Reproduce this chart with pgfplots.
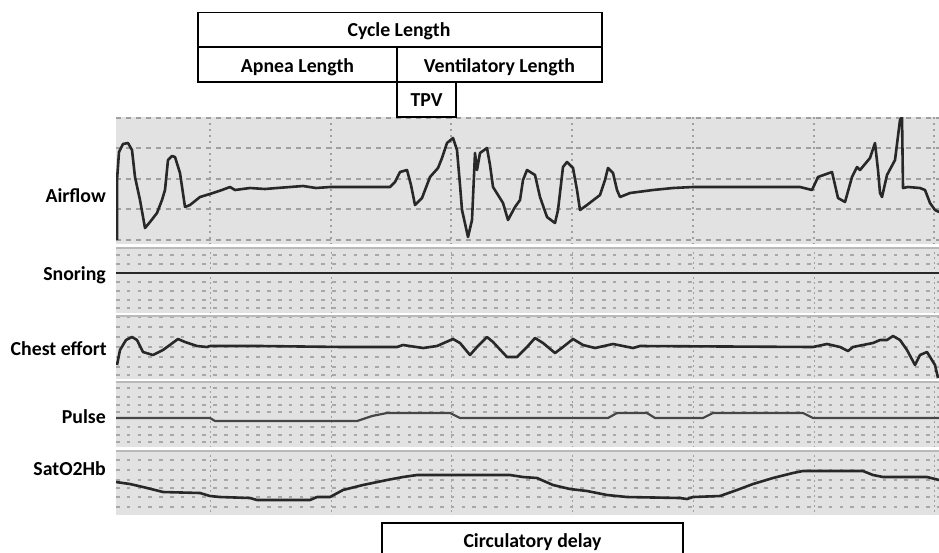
\documentclass[border=0pt]{standalone}
\usepackage{pgfplots}
\pgfplotsset{compat=1.18}
\usepackage{fontspec}
\setmainfont{Carlito}
\definecolor{panel}{RGB}{226,226,226}
\definecolor{gridc}{RGB}{160,160,160}
\definecolor{dashc}{RGB}{168,168,168}
\definecolor{trace}{RGB}{40,40,40}
\definecolor{pulsec}{RGB}{70,70,70}
\pgfplotsset{
  panel/.style={scale only axis, width=823pt, xmin=116, xmax=939, y dir=reverse,
    anchor=north west,
    axis background/.style={fill=panel}, axis line style={draw=none},
    tick style={draw=none}, xticklabels={}, yticklabels={},
    xtick={210,331,451,572,693,814,934}, grid=major,
    major grid style={dashc, line width=2.2pt, dash pattern=on 3.6pt off 7.2pt},
    major x grid style={gridc, line width=1pt, dash pattern=on 2pt off 3pt}},
  tr/.style={trace, line width=2.6pt, line join=round, no markers}
}
\begin{document}
\begin{tikzpicture}[x=1pt,y=-1pt]
\useasboundingbox (0,0) rectangle (939,552);
% Airflow
\begin{axis}[panel, at={(116pt,-117pt)}, height=127pt, ymin=117, ymax=244,
  ytick={118,148,179,209,240},
  major grid style={gridc, line width=1.2pt, dash pattern=on 5pt off 5pt},
  major x grid style={gridc, line width=1.2pt, dash pattern=on 2pt off 4pt}]
\addplot[tr] coordinates {(117,240)(117,180)(119,152)(123,144)(128,143)(132,150)(135,177)(140,200)(145,228)(150,222)(157,213)(162,200)(165,190)(168,160)(172,156)(175,157)(180,173)(185,207)(190,205)(200,197)(213,193)(222,190)(230,187)(235,190)(250,188)(265,189)(277,188)(290,187)(303,186)(316,188)(330,187)(345,187)(360,187)(375,187)(390,187)(395,182)(400,172)(407,170)(411,185)(415,205)(422,198)(430,177)(438,168)(442,158)(447,143)(453,138)(457,150)(460,185)(462,210)(468,237)(472,220)(475,153)(477,170)(480,153)(487,148)(490,165)(493,187)(503,203)(508,220)(515,207)(520,200)(523,180)(527,170)(535,175)(540,197)(547,217)(555,223)(558,210)(563,167)(567,162)(573,168)(577,190)(580,210)(587,205)(600,195)(605,180)(608,168)(613,173)(617,190)(620,197)(630,193)(653,190)(673,188)(693,187)(715,187)(737,187)(760,187)(787,187)(800,187)(812,190)(818,177)(832,172)(838,198)(845,202)(852,177)(857,167)(860,170)(870,158)(875,143)(878,170)(880,193)(882,197)(887,175)(895,160)(900,120)(902,117)(903,188)(908,187)(920,188)(925,190)(930,203)(935,210)(939,212)};
\end{axis}
% Snoring
\begin{axis}[panel, at={(116pt,-247pt)}, height=66pt, ymin=247, ymax=313,
  ytick={255,264,282,291,300,308}]
\addplot[tr, line width=2.4pt] coordinates {(116,273)(939,273)};
\end{axis}
% Chest effort
\begin{axis}[panel, at={(116pt,-315pt)}, height=64pt, ymin=315, ymax=379,
  ytick={317,327,337,347,357,367,375}]
\addplot[tr] coordinates {(117,365)(120,350)(126,340)(132,337)(137,340)(143,352)(153,355)(163,350)(178,339)(185,342)(197,346)(207,347)(210,346)(260,346)(343,347)(397,347)(403,345)(423,348)(437,346)(453,339)(460,343)(470,355)(477,347)(487,337)(493,342)(507,357)(517,357)(527,347)(535,338)(543,343)(555,353)(563,347)(573,339)(583,345)(595,348)(613,344)(633,348)(640,346)(813,347)(827,344)(840,347)(848,351)(853,347)(873,343)(880,340)(887,340)(893,336)(900,340)(907,350)(915,365)(920,355)(927,352)(935,365)(938,378)};
\end{axis}
% Pulse
\begin{axis}[panel, at={(116pt,-381pt)}, height=66pt, ymin=381, ymax=447,
  ytick={388,397,405,412,427,435,442}]
\addplot[pulsec, line width=2.2pt, line join=round, no markers] coordinates {(116,418)(210,418)(215,421)(357,421)(372,416)(387,413)(450,413)(460,418)(608,418)(617,413)(647,413)(655,418)(703,418)(713,413)(803,413)(813,418)(939,418)};
\end{axis}
% SatO2Hb
\begin{axis}[panel, at={(116pt,-450pt)}, height=65pt, ymin=450, ymax=515,
  ytick={460,470,480,488,497,507}]
\addplot[tr] coordinates {(116,482)(130,484)(143,487)(163,492)(200,493)(210,496)(220,497)(250,498)(257,500)(310,500)(317,497)(330,497)(343,490)(363,485)(387,480)(403,477)(417,475)(450,475)(510,475)(523,477)(537,478)(553,485)(570,489)(587,491)(607,495)(627,497)(680,498)(687,499)(693,497)(720,496)(737,490)(753,484)(773,478)(793,473)(803,471)(863,471)(873,475)(883,477)(927,477)(939,480)};
\end{axis}
% panel top edges
\foreach \yy in {248,316,382,451} {\draw[gray!55, line width=1.3pt] (116,\yy)--(939,\yy);}
% labels
\begin{scope}[every node/.style={font=\fontsize{19.8}{22}\selectfont\bfseries, inner sep=0pt}]
\node[anchor=base east] at (106,202) {Airflow};
\node[anchor=base east] at (106,280) {Snoring};
\node[anchor=base east] at (107,355) {Chest effort};
\node[anchor=base east] at (106,423) {Pulse};
\node[anchor=base east] at (106,475) {SatO2Hb};
\draw[line width=1.2pt] (198,12.7) rectangle (602,47);
\draw[line width=1.2pt] (198,47) rectangle (397,82);
\draw[line width=1.2pt] (397,47) rectangle (602,82);
\draw[line width=1.2pt] (397,82) rectangle (456,117);
\node[anchor=base] at (399,36.7) {Cycle Length};
\node[anchor=base] at (297.5,72.7) {Apnea Length};
\node[anchor=base] at (499.5,72.7) {Ventilatory Length};
\node[anchor=base] at (426.5,106.7) {TPV};
\draw[line width=1.2pt] (382,553)--(382,523)--(683,523)--(683,553);
\node[anchor=base] at (532.5,547) {Circulatory delay};
\end{scope}
\end{tikzpicture}
\end{document}
